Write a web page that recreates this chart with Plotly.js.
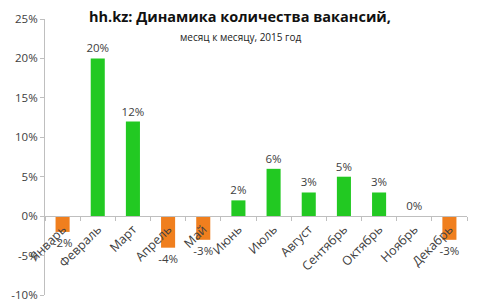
<!DOCTYPE html>
<html><head><meta charset="utf-8">
<script src="https://cdn.plot.ly/plotly-3.0.1.min.js"></script>
<style>html,body{margin:0;padding:0;background:#fff}#c{width:480px;height:303px}</style>
</head><body><div id="c"></div>
<script>
const months = ['Январь','Февраль','Март','Апрель','Май','Июнь','Июль','Август','Сентябрь','Октябрь','Ноябрь','Декабрь'];
const values = [-2, 20, 12, -4, -3, 2, 6, 3, 5, 3, 0, -3];
const yTicks = [-10, -5, 0, 5, 10, 15, 20, 25];
const colors = values.map(v => v < 0 ? '#f07f1e' : '#22c922');
const yMin = -10, yMax = 25;
const font = 'Open Sans, Liberation Sans, sans-serif';
Plotly.newPlot('c', [{
  type: 'bar', x: months, y: values,
  marker: {color: colors},
  text: values.map(v => v + '%'), textposition: 'outside', cliponaxis: false, constraintext: 'none',
  textfont: {family: font, size: 11.5, color: '#404040'},
  hoverinfo: 'none'
}], {
  width: 480, height: 303,
  margin: {l: 45, r: 13, t: 19, b: 8},
  paper_bgcolor: '#fff', plot_bgcolor: '#fff',
  bargap: 0.6, showlegend: false,
  title: {text: '<b>hh.kz: Динамика количества вакансий,</b>', x: 0.5, xanchor: 'center', y: 0.945, yanchor: 'middle',
    font: {family: font, size: 14.5, color: '#111'}},
  annotations: [{text: 'месяц к месяцу, 2015 год', xref: 'paper', yref: 'paper', x: 0.5, y: 0.935, showarrow: false,
    font: {family: font, size: 10, color: '#222'}, xanchor: 'center', yanchor: 'middle', xshift: -16}],
  xaxis: {
    type: 'category', anchor: 'free', position: (0 - yMin) / (yMax - yMin),
    showline: true, linecolor: '#bfbfbf', linewidth: 1,
    ticks: 'outside', tickson: 'boundaries', ticklen: 4, tickcolor: '#bfbfbf',
    tickangle: -45, tickfont: {family: font, size: 12.5, color: '#404040'},
    showgrid: false, zeroline: false, fixedrange: true
  },
  yaxis: {
    range: [yMin, yMax], tickvals: yTicks, ticktext: yTicks.map(v => v + '%'),
    showline: true, linecolor: '#bfbfbf', ticks: 'outside', ticklen: 4, tickcolor: '#bfbfbf',
    tickfont: {family: font, size: 11.5, color: '#404040'},
    showgrid: false, zeroline: false, fixedrange: true
  }
}, {staticPlot: true});
</script></body></html>
